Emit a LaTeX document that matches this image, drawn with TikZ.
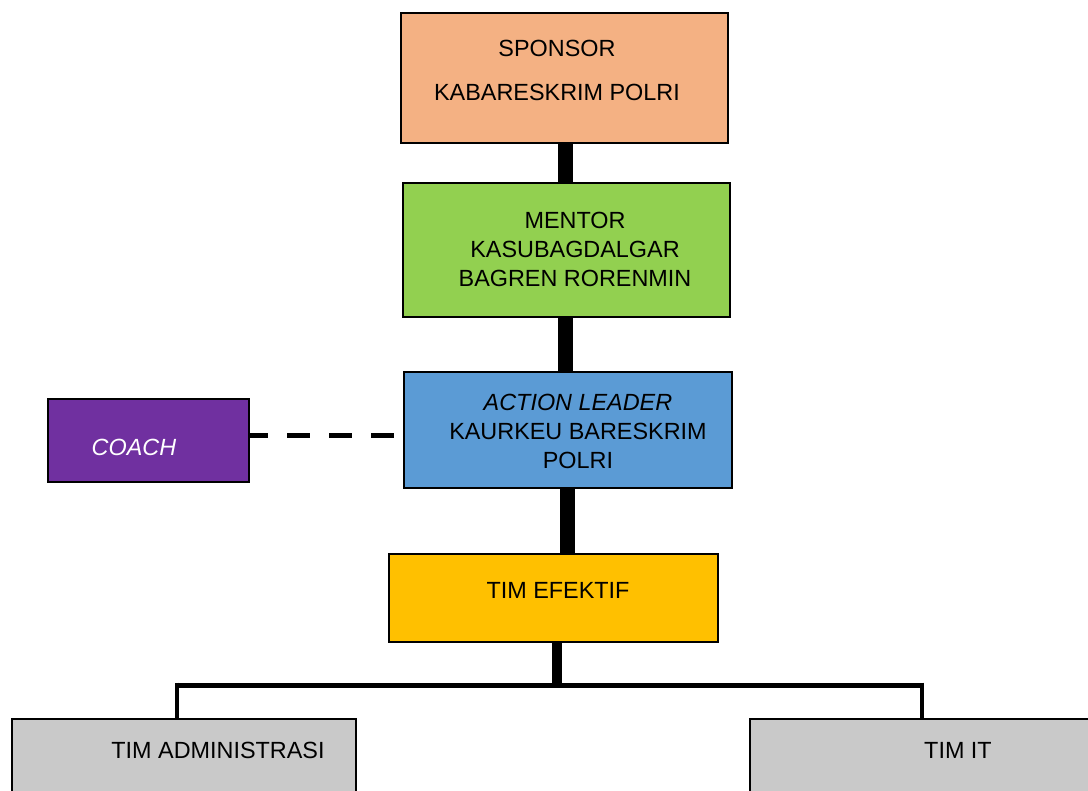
\documentclass[tikz,border=0pt]{standalone}
\usepackage{fontspec}
\setmainfont{Liberation Sans}
\definecolor{cSponsor}{HTML}{F4B183}
\definecolor{cMentor}{HTML}{92D050}
\definecolor{cAction}{HTML}{5B9BD5}
\definecolor{cCoach}{HTML}{7030A0}
\definecolor{cEfektif}{HTML}{FFC000}
\definecolor{cTim}{HTML}{C9C9C9}
\tikzset{
  box/.style={draw=black, line width=2.5pt, rectangle, inner sep=0pt},
  txt/.style={align=center, inner sep=0pt, font=\fontsize{23.4}{29}\selectfont},
  stem/.style={line width=15pt, draw=black},
  thinstem/.style={line width=10pt, draw=black},
  bar/.style={line width=5pt, draw=black},
  drop/.style={line width=4pt, draw=black},
  coachline/.style={line width=5pt, draw=black, dash pattern=on 23pt off 19pt, dash phase=5pt}
}
\begin{document}
\begin{tikzpicture}[x=1pt,y=-1pt]
\useasboundingbox (0,0) rectangle (1088,791);
\fill[white] (0,0) rectangle (1088,791);
\clip (0,0) rectangle (1088,791);

% boxes
\node[box, fill=cSponsor, minimum width=327pt, minimum height=130pt] (sponsor) at (564.5,78) {};
\node[box, fill=cMentor, minimum width=327pt, minimum height=134pt] (mentor) at (566.5,250) {};
\node[box, fill=cAction, minimum width=328pt, minimum height=116pt] (action) at (568,430) {};
\node[box, fill=cCoach, minimum width=201pt, minimum height=83pt] (coach) at (148.5,440.5) {};
\node[box, fill=cEfektif, minimum width=329pt, minimum height=88pt] (efektif) at (553.5,598) {};
\node[box, fill=cTim, minimum width=344pt, minimum height=100pt] (admin) at (184,769) {};
\node[box, fill=cTim, minimum width=349pt, minimum height=100pt] (timit) at (924.5,769) {};

% texts
\node[txt, font=\fontsize{23.4}{44}\selectfont] (sponsor-t) at (557,70) {SPONSOR\\KABARESKRIM POLRI};
\node[txt] (mentor-t) at (575,249) {MENTOR\\KASUBAGDALGAR\\BAGREN RORENMIN};
\node[txt] (action-t) at (578,431) {\textit{ACTION LEADER}\\KAURKEU BARESKRIM\\POLRI};
\node[txt, text=white] (coach-t) at (134,447) {\textit{COACH}};
\node[txt] (efektif-t) at (558,590) {TIM EFEKTIF};
\node[txt] (admin-t) at (218,750) {TIM ADMINISTRASI};
\node[txt] (timit-t) at (958,750) {TIM IT};

% connectors
\coordinate (bar) at (557,688);
\coordinate (barL) at (177,685);
\coordinate (barR) at (922,685);
\coordinate (coachend) at (396,436);

\draw[stem] (sponsor.south -| 565.5,0) -- (mentor.north -| 565.5,0);
\draw[stem] (mentor.south -| 565.5,0) -- (action.north -| 565.5,0);
\draw[stem] (action.south -| 567,0) -- (efektif.north -| 567,0);
\draw[thinstem] (efektif.south -| bar) -- (bar);
\draw[bar] ([xshift=-2pt]barL) -- ([xshift=2pt]barR);
\draw[drop] ([yshift=2.5pt]barL) -- (admin.north -| barL);
\draw[drop] ([yshift=2.5pt]barR) -- (timit.north -| barR);
\draw[coachline] (coach.east |- coachend) -- (coachend);
\end{tikzpicture}
\end{document}
